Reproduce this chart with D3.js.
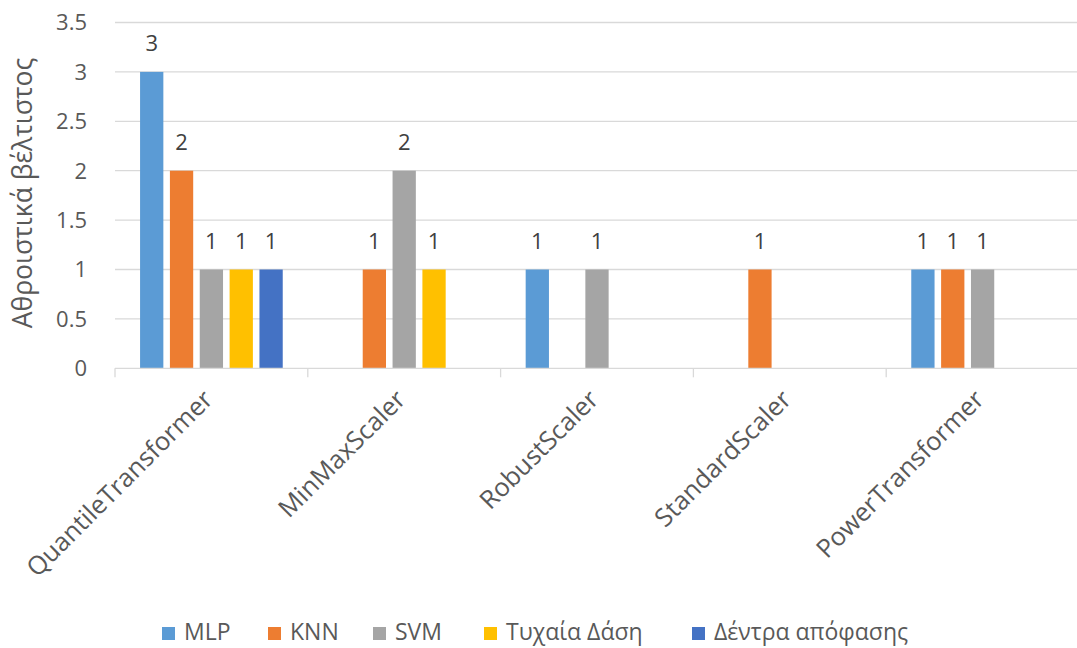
<!DOCTYPE html>
<html>
<head>
<meta charset="utf-8">
<script src="https://cdn.jsdelivr.net/npm/d3@7/dist/d3.min.js"></script>
<style>
  html, body { margin: 0; padding: 0; background: #fff; }
  svg { display: block; font-family: "Open Sans", "Noto Sans", sans-serif; }
</style>
</head>
<body>
<svg id="chart" width="1077" height="648"></svg>
<script>
// Scalers compared and the models whose best result used each one
const categories = ["QuantileTransformer", "MinMaxScaler", "RobustScaler", "StandardScaler", "PowerTransformer"];
const seriesNames = ["MLP", "KNN", "SVM", "Τυχαία Δάση", "Δέντρα απόφασης"];
const seriesColors = ["#5B9BD5", "#ED7D31", "#A5A5A5", "#FFC000", "#4472C4"];

// counts per scaler (null = no bar)
const mlpValues = [3, null, 1, null, 1];
const knnValues = [2, 1, null, 1, 1];
const svmValues = [1, 2, 1, null, 1];
const rfValues = [1, 1, null, null, null];
const dtValues = [1, null, null, null, null];

const yTicks = [0, 0.5, 1, 1.5, 2, 2.5, 3, 3.5];
const yTitle = "Αθροιστικά βέλτιστος";

const seriesValues = [mlpValues, knnValues, svmValues, rfValues, dtValues];

const svg = d3.select("#chart");
const plot = { left: 115, right: 1079, top: 22.5, bottom: 368.3 };

const x0 = d3.scaleBand().domain(categories).range([plot.left, plot.right]).paddingInner(0).paddingOuter(0);
const x1 = d3.scaleBand().domain(seriesNames).range([0, x0.bandwidth()]).paddingInner(0.22).paddingOuter(0.84);
const y = d3.scaleLinear().domain([0, 3.5]).range([plot.bottom, plot.top]);

const gridColor = "#D9D9D9";
const textColor = "#595959";

// horizontal gridlines
svg.append("g")
  .selectAll("line")
  .data(yTicks.filter(t => t > 0))
  .join("line")
  .attr("x1", plot.left).attr("x2", plot.right)
  .attr("y1", d => y(d)).attr("y2", d => y(d))
  .attr("stroke", gridColor).attr("stroke-width", 1.3);

// y tick labels
svg.append("g")
  .selectAll("text")
  .data(yTicks)
  .join("text")
  .attr("x", 87).attr("y", d => y(d))
  .attr("dy", "0.36em")
  .attr("text-anchor", "end")
  .attr("font-size", 22)
  .attr("fill", textColor)
  .text(d => d);

// y axis title
svg.append("text")
  .attr("transform", "translate(32,193) rotate(-90)")
  .attr("text-anchor", "middle")
  .attr("font-size", 26.5)
  .attr("fill", textColor)
  .text(yTitle);

// bars
const rows = [];
categories.forEach((c, ci) => {
  seriesNames.forEach((s, si) => {
    const v = seriesValues[si][ci];
    if (v != null) rows.push({ cat: c, series: s, value: v, color: seriesColors[si] });
  });
});

svg.append("g")
  .selectAll("rect")
  .data(rows)
  .join("rect")
  .attr("x", d => x0(d.cat) + x1(d.series))
  .attr("width", x1.bandwidth())
  .attr("y", d => y(d.value))
  .attr("height", d => y(0) - y(d.value))
  .attr("fill", d => d.color);

// data labels
svg.append("g")
  .selectAll("text")
  .data(rows)
  .join("text")
  .attr("x", d => x0(d.cat) + x1(d.series) + x1.bandwidth() / 2)
  .attr("y", d => y(d.value) - 21)
  .attr("text-anchor", "middle")
  .attr("font-size", 22)
  .attr("fill", "#404040")
  .text(d => d.value);

// category axis
const xAxis = svg.append("g");
xAxis.append("line")
  .attr("x1", plot.left).attr("x2", plot.right)
  .attr("y1", y(0)).attr("y2", y(0))
  .attr("stroke", gridColor).attr("stroke-width", 1.3);

const boundaries = categories.map(c => x0(c)).concat([x0(categories[categories.length - 1]) + x0.bandwidth()]);
xAxis.selectAll("line.tick")
  .data(boundaries)
  .join("line")
  .attr("class", "tick")
  .attr("x1", d => d).attr("x2", d => d)
  .attr("y1", y(0)).attr("y2", y(0) + 9)
  .attr("stroke", gridColor).attr("stroke-width", 1.3);

xAxis.selectAll("text")
  .data(categories)
  .join("text")
  .attr("transform", d => `translate(${x0(d) + x0.bandwidth() / 2 + 3},401) rotate(-45)`)
  .attr("text-anchor", "end")
  .attr("font-size", 25.5)
  .attr("fill", textColor)
  .text(d => d);

// legend
const legendItems = [
  { name: seriesNames[0], x: 162 },
  { name: seriesNames[1], x: 268 },
  { name: seriesNames[2], x: 373 },
  { name: seriesNames[3], x: 484 },
  { name: seriesNames[4], x: 692 }
];
const legend = svg.append("g");
legendItems.forEach((it, i) => {
  legend.append("rect")
    .attr("x", it.x).attr("y", 627)
    .attr("width", 13).attr("height", 13)
    .attr("fill", seriesColors[i]);
  legend.append("text")
    .attr("x", it.x + 22).attr("y", 640)
    .attr("font-size", 23)
    .attr("fill", textColor)
    .text(it.name);
});
</script>
</body>
</html>
